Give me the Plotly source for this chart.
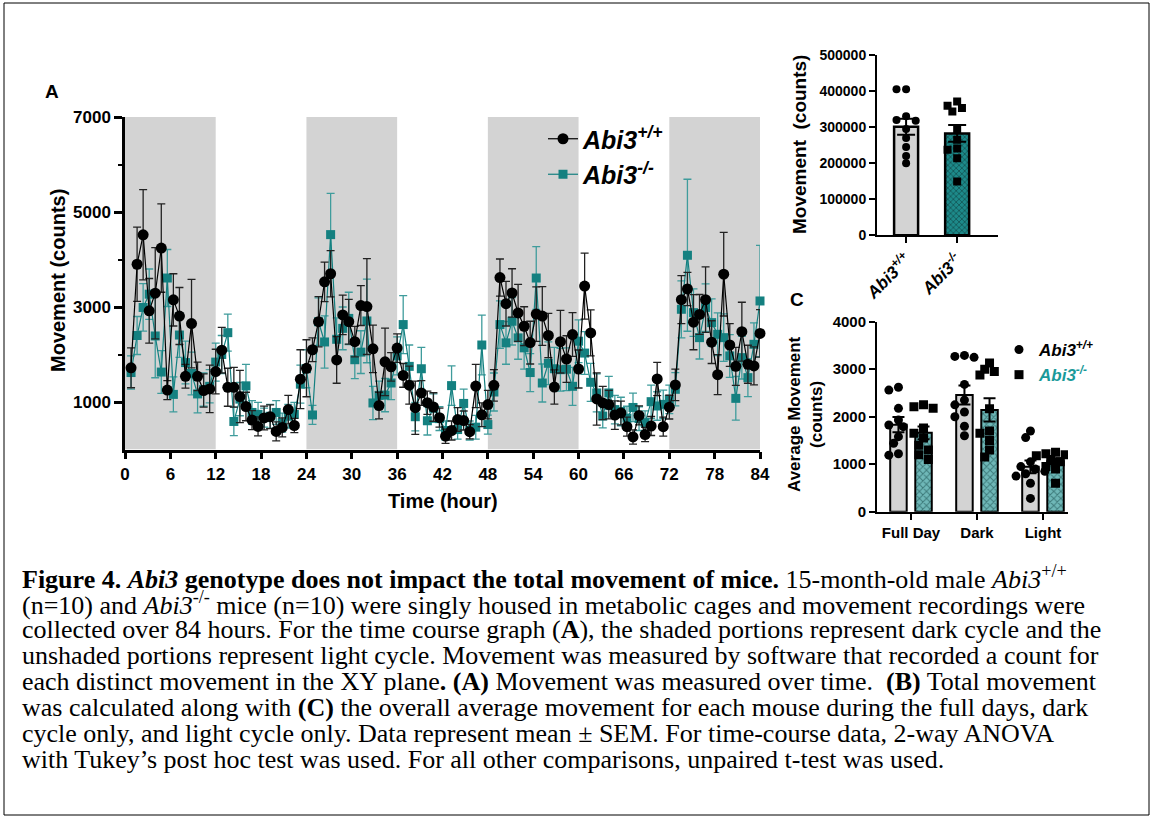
import numpy as np
import plotly.graph_objects as go

W, H = 1152, 818
def fx(p): return p / W
def fy(p): return 1 - p / H

SANS = "Liberation Sans, Arial, sans-serif"
SERIF = "Liberation Serif, Times New Roman, serif"
TEAL = "#148080"
TEAL_ERR = "#3f9c9c"
TEAL_TXT = "#1a9a9a"
GRAY = "#d3d3d3"

# ---------------- Panel A : time course ----------------
time_h = np.arange(1, 106) * 0.8
dark_periods = [(0, 12), (24, 36), (48, 60), (72, 84)]

wt_mean = [1720, 3900, 4520, 2920, 3290, 4240, 1250, 3150, 2810, 1540,
           2650, 1540, 1240, 1275, 1640, 2090, 1310, 1310, 1115, 905,
           620, 485, 665, 690, 380, 465, 840, 505, 1480, 1710,
           2100, 2690, 3530, 3700, 1885, 2833, 2690, 2270, 3030, 3010,
           2120, 925, 1845, 1740, 2135, 1560, 1355, 880, 1190, 985,
           895, 670, 280, 400, 630, 610, 375, 1335, 730, 945,
           1350, 3620, 3070, 3295, 2875, 2595, 2250, 2850, 2810, 2400,
           1315, 2270, 1905, 2420, 1695, 3440, 2455, 1065, 980, 945,
           725, 770, 481, 265, 717, 316, 495, 1485, 481, 892,
           1360, 3155, 3380, 2680, 2843, 3155, 2260, 1576, 3690, 2200,
           1750, 2480, 1795, 1760, 2443]
wt_sem = [420, 780, 950, 680, 960, 930, 200, 550, 600, 250,
          930, 300, 350, 500, 470, 480, 400, 420, 550, 300,
          200, 200, 250, 250, 200, 200, 300, 150, 620, 600,
          250, 530, 415, 485, 490, 415, 470, 320, 420, 1010,
          500, 280, 710, 300, 300, 250, 400, 560, 260, 245,
          300, 200, 150, 200, 250, 200, 150, 455, 250, 300,
          330, 390, 470, 510, 600, 410, 450, 575, 620, 465,
          360, 660, 490, 460, 400, 695, 485, 550, 350, 300,
          300, 250, 200, 150, 200, 150, 200, 350, 200, 250,
          330, 505, 350, 580, 420, 690, 450, 420, 880, 450,
          400, 620, 400, 400, 500]
ko_mean = [1620, 2400, 2990, 3270, 2390, 1630, 3610, 1160, 2410, 1830,
           1600, 1170, 1260, 1330, 1840, 2000, 2460, 590, 1060, 1340,
           780, 740, 670, 700, 780, 565, 700, 740, 1375, 1700,
           727, 2690, 2264, 4524, 2320, 2550, 2760, 1890, 2050, 2706,
           980, 1140, 1145, 1400, 1970, 2630, 1750, 690, 1700, 605,
           870, 650, 400, 1345, 420, 970, 400, 470, 2200, 525,
           1210, 2630, 2245, 2700, 2350, 2140, 1620, 3610, 1400, 1815,
           1700, 1680, 1690, 1330, 2280, 2030, 1415, 1190, 705, 1190,
           840, 800, 660, 885, 650, 565, 1007, 916, 950, 1056,
           1267, 2952, 4089, 2881, 2355, 2987, 2671, 2425, 2355, 1970,
           1077, 1934, 1513, 2215, 3127]
ko_sem = [350, 400, 500, 530, 880, 450, 600, 370, 470, 450,
          450, 400, 350, 350, 400, 400, 390, 300, 350, 450,
          250, 250, 200, 250, 250, 200, 250, 250, 400, 400,
          200, 500, 550, 870, 450, 450, 550, 400, 450, 880,
          350, 300, 350, 350, 400, 610, 450, 300, 450, 300,
          300, 250, 200, 415, 200, 300, 200, 250, 630, 200,
          400, 500, 450, 500, 450, 450, 400, 660, 400, 450,
          450, 450, 450, 400, 450, 450, 400, 400, 250, 350,
          300, 300, 250, 300, 250, 250, 350, 300, 300, 300,
          350, 600, 1600, 500, 450, 500, 500, 450, 500, 450,
          460, 450, 400, 450, 1170]

# ---------------- Panel B : total movement ----------------
genotypes = ["Abi3 +/+", "Abi3 -/-"]
total_wt = [405000, 405000, 330000, 320000, 318000, 295000, 270000, 245000, 220000, 200000]
total_ko = [371000, 359000, 353000, 343000, 294000, 265000, 241000, 237000, 214000, 149000]

# ---------------- Panel C : average movement ----------------
periods = ["Full Day", "Dark", "Light"]
avg_wt = [
    [2560, 2620, 2176, 1930, 1825, 1790, 1580, 1440, 1190, 1220],
    [3290, 3270, 3250, 2680, 2350, 2250, 2100, 2000, 1800, 1600],
    [1700, 1560, 1050, 950, 900, 850, 800, 750, 600, 280],
]
avg_ko = [
    [2250, 2210, 2180, 1760, 1650, 1550, 1400, 1300, 1200, 1100],
    [3130, 3000, 2950, 2880, 2170, 1700, 1650, 1500, 1300, 1150],
    [1250, 1220, 1200, 1180, 1150, 1100, 1050, 950, 900, 600],
]

caption_lines = [
    "<b>Figure 4. <i>Abi3</i> genotype does not impact the total movement of mice.</b> 15-month-old male <i>Abi3</i><sup>+/+</sup>",
    "(n=10) and <i>Abi3</i><sup>-/-</sup> mice (n=10) were singly housed in metabolic cages and movement recordings were",
    "collected over 84 hours. For the time course graph (<b>A</b>), the shaded portions represent dark cycle and the",
    "unshaded portions represent light cycle. Movement was measured by software that recorded a count for",
    "each distinct movement in the XY plane<b>. (A)</b> Movement was measured over time.  <b>(B)</b> Total movement",
    "was calculated along with <b>(C)</b> the overall average movement for each mouse during the full days, dark",
    "cycle only, and light cycle only. Data represent mean ± SEM. For time-course data, 2-way ANOVA",
    "with Tukey\u2019s post hoc test was used. For all other comparisons, unpaired t-test was used.",
]

WT_LABEL = "<b><i>Abi3<sup>+/+</sup></i></b>"
KO_LABEL = "<b><i>Abi3<sup>-/-</sup></i></b>"


def mean_sem(v):
    v = np.asarray(v, float)
    return v.mean(), v.std(ddof=1) / np.sqrt(len(v))


def swarm_offsets(vals, ypx_per_unit, xpx_per_unit, d=8.0):
    vals = np.asarray(vals, float)
    order = np.argsort(-vals, kind="stable")
    placed = []
    offs = np.zeros(len(vals))
    cands = [0, -0.6, 0.6, -1.2, 1.2, -1.8, 1.8, -2.4, 2.4]
    for i in order:
        yp = vals[i] * ypx_per_unit
        xp = 0.0
        for c in cands:
            xp = c * d
            if all((xp - a) ** 2 + (yp - b) ** 2 >= (0.9 * d) ** 2 for a, b in placed):
                break
        placed.append((xp, yp))
        offs[i] = xp / xpx_per_unit
    return offs


fig = go.Figure()

# Panel A traces (teal below black)
fig.add_trace(go.Scatter(
    x=time_h, y=ko_mean, mode="lines+markers", name=KO_LABEL, legend="legend", legendrank=2,
    line=dict(color=TEAL, width=1.2),
    marker=dict(symbol="square", size=9, color=TEAL),
    error_y=dict(type="data", array=ko_sem, visible=True, color=TEAL_ERR, thickness=1.3, width=4),
    cliponaxis=False, xaxis="x", yaxis="y"))
fig.add_trace(go.Scatter(
    x=time_h, y=wt_mean, mode="lines+markers", name=WT_LABEL, legend="legend", legendrank=1,
    line=dict(color="black", width=1.2),
    marker=dict(symbol="circle", size=11, color="black"),
    error_y=dict(type="data", array=wt_sem, visible=True, color="#222222", thickness=1.3, width=4),
    cliponaxis=False, xaxis="x", yaxis="y"))

# Panel B bars
b_stats = [mean_sem(total_wt), mean_sem(total_ko)]
b_x = [0, 1]
fig.add_trace(go.Bar(
    x=[b_x[0]], y=[b_stats[0][0]], width=0.47, showlegend=False,
    marker=dict(color=GRAY, line=dict(color="black", width=2.5)),
    error_y=dict(type="data", array=[b_stats[0][1]], color="black", thickness=2, width=9),
    xaxis="x2", yaxis="y2"))
fig.add_trace(go.Bar(
    x=[b_x[1]], y=[b_stats[1][0]], width=0.47, showlegend=False,
    marker=dict(color=TEAL, pattern=dict(shape="x", fgcolor="#0a2a2a", bgcolor="#1d8a8a", size=4, solidity=0.4),
                line=dict(color="black", width=2.5)),
    error_y=dict(type="data", array=[b_stats[1][1]], color="black", thickness=2, width=9),
    xaxis="x2", yaxis="y2"))
bw = swarm_offsets(total_wt, 36 / 100000, 51)
bk = swarm_offsets(total_ko, 36 / 100000, 51)
fig.add_trace(go.Scatter(x=b_x[0] + bw, y=total_wt, mode="markers", showlegend=False,
                         marker=dict(symbol="circle", size=8, color="black"), xaxis="x2", yaxis="y2"))
fig.add_trace(go.Scatter(x=b_x[1] + bk, y=total_ko, mode="markers", showlegend=False,
                         marker=dict(symbol="square", size=8, color="black"), xaxis="x2", yaxis="y2"))

# Panel C bars
off = 0.19
c_wt_stats = [mean_sem(v) for v in avg_wt]
c_ko_stats = [mean_sem(v) for v in avg_ko]
gidx = np.arange(len(periods))
fig.add_trace(go.Bar(
    x=gidx - off, y=[s[0] for s in c_wt_stats], width=0.25, showlegend=False,
    marker=dict(color=GRAY, line=dict(color="black", width=2)),
    error_y=dict(type="data", array=[s[1] for s in c_wt_stats], color="black", thickness=2, width=6),
    xaxis="x3", yaxis="y3"))
fig.add_trace(go.Bar(
    x=gidx + off, y=[s[0] for s in c_ko_stats], width=0.25, showlegend=False,
    marker=dict(color="#5aa9a9", pattern=dict(shape="x", fgcolor="#0c3c3c", bgcolor="#6fb8b8", size=5, solidity=0.35),
                line=dict(color="black", width=2)),
    error_y=dict(type="data", array=[s[1] for s in c_ko_stats], color="black", thickness=2, width=6),
    xaxis="x3", yaxis="y3"))
cx_wt, cy_wt, cx_ko, cy_ko = [], [], [], []
for i in range(len(periods)):
    ow = swarm_offsets(avg_wt[i], 47.5 / 1000, 66)
    ok = swarm_offsets(avg_ko[i], 47.5 / 1000, 66)
    cx_wt += list(i - off + ow); cy_wt += avg_wt[i]
    cx_ko += list(i + off + ok); cy_ko += avg_ko[i]
fig.add_trace(go.Scatter(x=cx_wt, y=cy_wt, mode="markers", name=WT_LABEL, legend="legend2",
                         marker=dict(symbol="circle", size=9, color="black"), xaxis="x3", yaxis="y3"))
fig.add_trace(go.Scatter(x=cx_ko, y=cy_ko, mode="markers",
                         name="<span style='color:%s'>%s</span>" % (TEAL_TXT, KO_LABEL), legend="legend2",
                         marker=dict(symbol="square", size=9, color="black"), xaxis="x3", yaxis="y3"))

# shading for dark periods
shapes = []
for a, b in dark_periods:
    shapes.append(dict(type="rect", xref="x", yref="y", x0=a, x1=b, y0=0, y1=7000,
                       fillcolor=GRAY, line=dict(width=0), layer="below"))
# outer frame
shapes.append(dict(type="rect", xref="paper", yref="paper", x0=fx(4), x1=fx(1149), y0=fy(815), y1=fy(3),
                   line=dict(color="black", width=1), fillcolor="rgba(0,0,0,0)", layer="above"))

ax_common = dict(showline=True, linecolor="black", ticks="outside", tickcolor="black",
                 showgrid=False, zeroline=False, automargin=False,
                 tickfont=dict(family=SANS, color="black", weight="bold"))

fig.update_layout(
    width=W, height=H, margin=dict(l=0, r=0, t=0, b=0, pad=0, autoexpand=False),
    paper_bgcolor="white", plot_bgcolor="rgba(0,0,0,0)",
    barmode="overlay", shapes=shapes,
    xaxis=dict(**ax_common, domain=[fx(125), fx(760)], range=[0, 84], anchor="y",
               tickvals=list(range(0, 85, 6)), linewidth=2.5, tickwidth=2.5, ticklen=7),
    yaxis=dict(**ax_common, domain=[fy(449.5), fy(117)], range=[0, 7000], anchor="x",
               tickvals=[1000, 3000, 5000, 7000], linewidth=2.5, tickwidth=2.5, ticklen=8,
               minor=dict(tickvals=[2000, 4000, 6000], ticklen=4, tickwidth=2, tickcolor="black", ticks="outside")),
    xaxis2=dict(**ax_common, domain=[fx(877), fx(998)], range=[-0.57, 1.8], anchor="y2",
                tickvals=b_x, ticktext=[WT_LABEL, KO_LABEL], tickangle=-45,
                linewidth=2, tickwidth=2, ticklen=6),
    yaxis2=dict(**ax_common, domain=[fy(235.3), fy(55)], range=[0, 500000], anchor="x2",
                tickvals=[0, 100000, 200000, 300000, 400000, 500000], tickformat="d",
                linewidth=2, tickwidth=2, ticklen=6),
    xaxis3=dict(**ax_common, domain=[fx(877), fx(1068)], range=[-0.515, 2.379], anchor="y3",
                tickvals=list(gidx), ticktext=periods,
                linewidth=2, tickwidth=2, ticklen=6),
    yaxis3=dict(**ax_common, domain=[fy(511.7), fy(321.7)], range=[0, 4000], anchor="x3",
                tickvals=[0, 1000, 2000, 3000, 4000], linewidth=2, tickwidth=2, ticklen=6),
    legend=dict(x=fx(543), y=fy(116), xanchor="left", yanchor="top", bgcolor="rgba(0,0,0,0)",
                font=dict(family=SANS, size=25, color="black"), itemwidth=30, tracegroupgap=0),
    legend2=dict(x=fx(999), y=fy(332), xanchor="left", yanchor="top", bgcolor="rgba(0,0,0,0)",
                 font=dict(family=SANS, size=17, color="black"), itemwidth=30, tracegroupgap=0),
)

fig.update_xaxes(tickfont_size=17, selector=dict(anchor="y"))
fig.update_yaxes(tickfont_size=17, selector=dict(anchor="x"))
fig.update_xaxes(tickfont_size=17, selector=dict(anchor="y2"))
fig.update_yaxes(tickfont_size=14, selector=dict(anchor="x2"))
fig.update_xaxes(tickfont_size=15, selector=dict(anchor="y3"))
fig.update_yaxes(tickfont_size=15, selector=dict(anchor="x3"))

ann = []
def add_text(x, y, text, size, angle=0, family=SANS, xanchor="center", bold=True):
    ann.append(dict(xref="paper", yref="paper", x=fx(x), y=fy(y), text=("<b>%s</b>" % text) if bold else text,
                    showarrow=False, textangle=angle, xanchor=xanchor, yanchor="middle",
                    font=dict(family=family, size=size, color="black")))

add_text(52, 91, "A", 19)
add_text(797, 299, "C", 19)
add_text(58, 281, "Movement (counts)", 20, angle=-90)
add_text(443, 501, "Time (hour)", 20)
add_text(799, 145, "Movement  (counts)", 19, angle=-90)
add_text(806, 414, "Average Movement<br>(counts)", 17, angle=-90)

for i, line in enumerate(caption_lines):
    add_text(20, 577 + 26 * i, line, 26, family=SERIF, xanchor="left", bold=False)

fig.update_layout(annotations=ann)
fig.write_html("out.html")
